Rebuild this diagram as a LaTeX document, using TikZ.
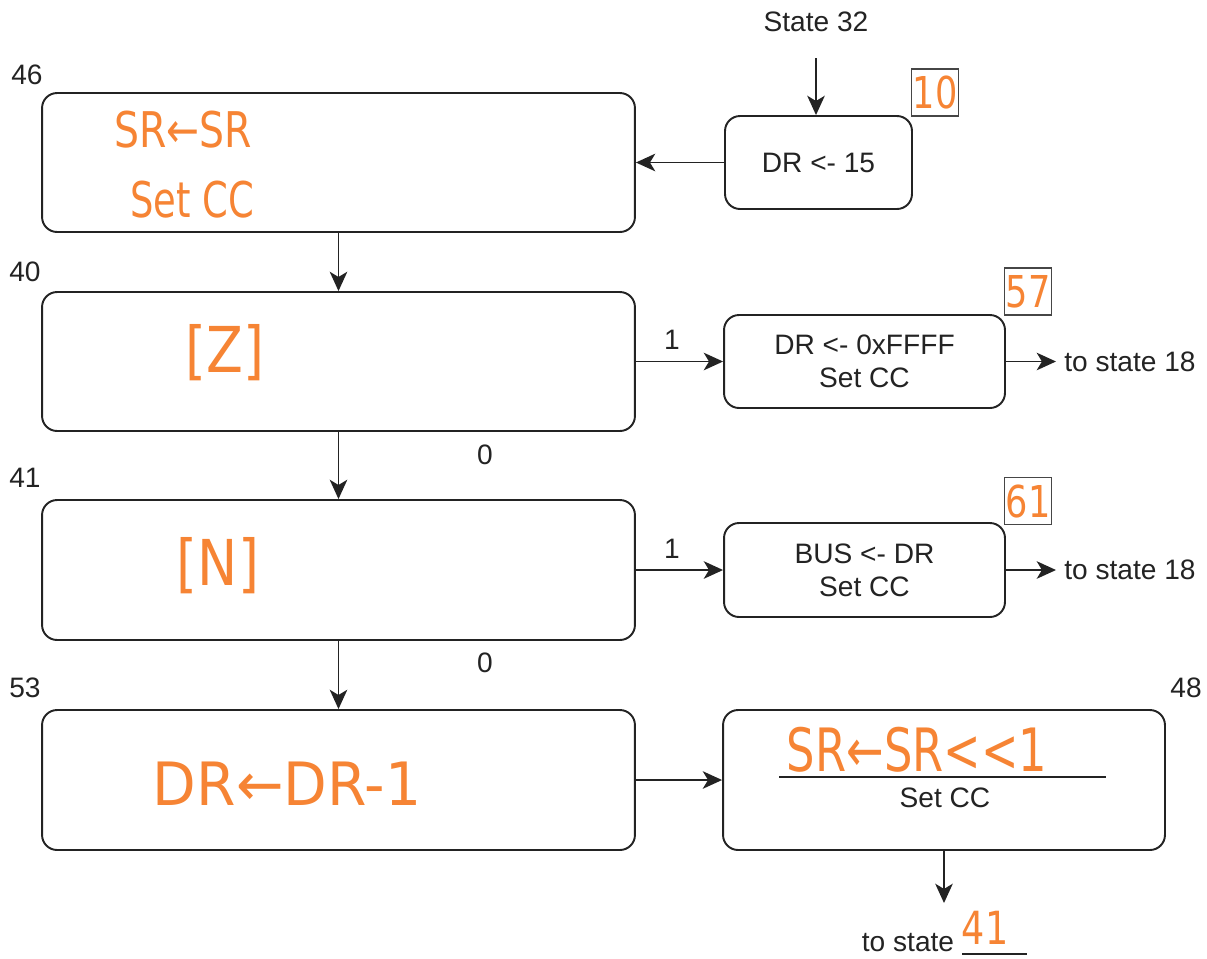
\documentclass[tikz,border=0pt]{standalone}
\usepackage{fontspec}
\usepackage{graphicx}
\setmainfont{Liberation Sans}
\newfontfamily\handfont{DejaVu Sans}
\usetikzlibrary{arrows.meta,calc}
\definecolor{ink}{RGB}{35,35,35}
\definecolor{marker}{RGB}{246,132,52}
\definecolor{tagline}{RGB}{70,70,70}
% narrow marker lettering
\newcommand{\hw}[2][0.8]{\scalebox{#1}[1]{#2}}

\begin{document}
\begin{tikzpicture}[x=0.02cm,y=-0.02cm,
  state/.style={draw=ink, line width=1.1pt, rounded corners=0.3cm, fill=white,
    inner sep=0pt, align=center, text=ink, font=\fontsize{16}{19}\selectfont},
  flow/.style={draw=ink, line width=1pt, -{Stealth[length=11pt,width=10pt,inset=3pt]}},
  lbl/.style={font=\fontsize{16}{19}\selectfont, text=ink, inner sep=0pt},
  hand/.style={text=marker, font=\handfont\fontsize{28}{32}\selectfont, inner sep=0pt},
  tag/.style={draw=tagline, line width=0.8pt, minimum size=0.94cm, inner sep=0pt,
    text=marker, font=\handfont\fontsize{25}{27}\selectfont}
]
\useasboundingbox (0,0) rectangle (1207,958);

% ---- left column of states ----
\node[state, minimum width=11.86cm, minimum height=2.78cm] (s46) at (338.5,162.5) {};
\node[state, minimum width=11.86cm, minimum height=2.78cm] (s40) at (338.5,361.5) {};
\node[state, minimum width=11.86cm, minimum height=2.80cm] (s41) at (338.5,570) {};
\node[state, minimum width=11.86cm, minimum height=2.80cm] (s53) at (338.5,780) {};

% ---- right column of states ----
\node[state, minimum width=3.74cm, minimum height=1.86cm] (s10) at (818.5,162.5) {DR <- 15};
\node[state, minimum width=5.62cm, minimum height=1.86cm] (s57) at (864.5,361.5) {DR <- 0xFFFF\\Set CC};
\node[state, minimum width=5.62cm, minimum height=1.88cm] (s61) at (864.5,570) {BUS <- DR\\Set CC};
\node[state, minimum width=8.84cm, minimum height=2.80cm] (s48) at (944,780) {};

% ---- state numbers ----
\node[lbl] (n46) at (27,75) {46};
\node[lbl] (n40) at (25,272) {40};
\node[lbl] (n41) at (25,478) {41};
\node[lbl] (n53) at (25,688) {53};
\node[lbl] (n48) at (1186,688) {48};
\node[tag] (t10) at (935,92.5) {\hw[0.8]{10}};
\node[tag] (t57) at (1028,291.5) {\hw[0.8]{57}};
\node[tag] (t61) at (1028,501) {\hw[0.8]{61}};

% ---- marker contents ----
\node[hand] (h46a) at (183,130) {\hw[0.8]{SR←SR}};
\node[hand] (h46b) at (192,200) {\hw[0.75]{Set CC}};
\node[hand, font=\handfont\fontsize{36}{40}\selectfont] (h40) at (225,353) {\hw[0.85]{[Z]}};
\node[hand, font=\handfont\fontsize{36}{40}\selectfont] (h41) at (218,566) {\hw[0.85]{[N]}};
\node[hand, font=\handfont\fontsize{34}{38}\selectfont] (h53) at (287,784) {\hw[0.95]{DR←DR-1}};
\node[hand, font=\handfont\fontsize{34}{38}\selectfont] (h48) at (917,750) {\hw[0.75]{SR←SR<<1}};

% rule and printed text inside state 48
\coordinate (r1) at (779,777);
\coordinate (r2) at (1106,777);
\draw[ink, line width=1.1pt] (r1) -- (r2);
\node[lbl] (cc48) at (945,798) {Set CC};

% ---- entry from state 32 ----
\node[lbl] (st32) at (816,22) {State 32};
\coordinate (e32) at (816,58);
\draw[flow] (e32) -- (e32 |- s10.north);
\draw[flow] (s10.west) -- (s10.west -| s46.east);

% ---- vertical flow ----
\draw[flow] (s46.south) -- (s40.north);
\draw[flow] (s40.south) -- (s41.north);
\draw[flow] (s41.south) -- (s53.north);
\node[lbl] (z0a) at (485,455) {0};
\node[lbl] (z0b) at (485,663) {0};

% ---- branches ----
\draw[flow] (s40.east) -- (s57.west);
\node[lbl] (o1a) at (672,340) {1};
\draw[flow] (s41.east) -- (s61.west);
\node[lbl] (o1b) at (672,549) {1};
\draw[flow] (s53.east) -- (s48.west);

\node[lbl, anchor=west] (x18a) at (1064,361.5) {to state 18};
\node[lbl, anchor=west] (x18b) at (1064,570) {to state 18};
\draw[flow, shorten >=0.16cm] (s57.east) -- (s57.east -| x18a.west);
\draw[flow, shorten >=0.16cm] (s61.east) -- (s61.east -| x18b.west);

% ---- exit of state 48 ----
\coordinate (e48) at (944,903);
\draw[flow] (s48.south) -- (e48);
\node[lbl] (ts) at (908,943) {to state};
\coordinate (u1) at (962,954);
\coordinate (u2) at (1027,954);
\draw[ink, line width=1pt] (u1) -- (u2);
\node[hand, font=\handfont\fontsize{26}{28}\selectfont, anchor=base] (h41b) at (985,944) {\hw[0.8]{41}};
\end{tikzpicture}
\end{document}
